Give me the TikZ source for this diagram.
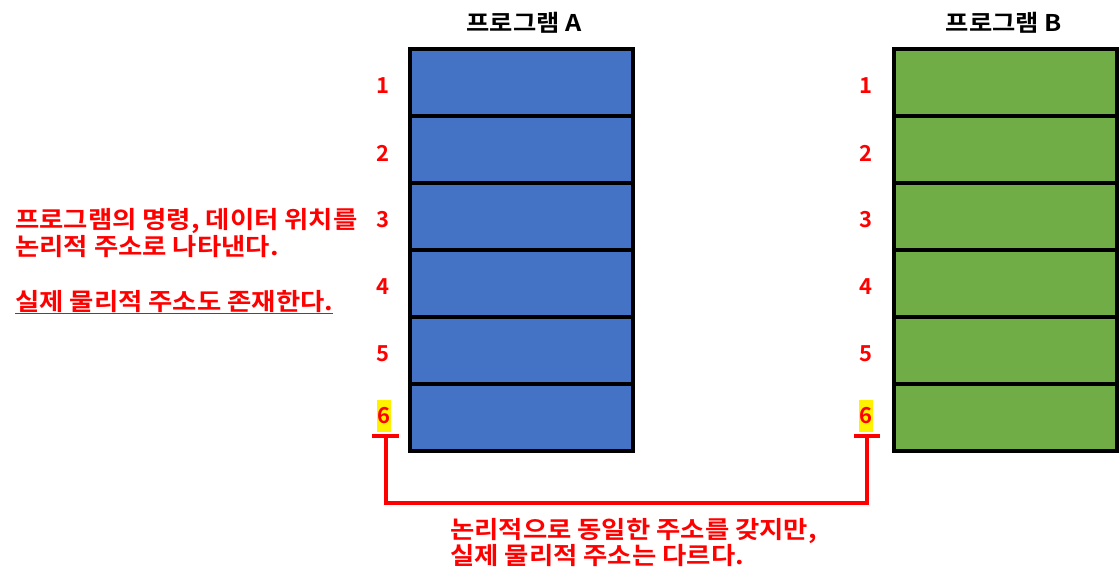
\documentclass[tikz,border=0pt]{standalone}
\usepackage{fontspec}
\setmainfont{Noto Sans CJK KR}[BoldFont={Noto Sans CJK KR Bold}]
\newfontfamily\widefont{Noto Sans CJK KR Bold}[FakeStretch=1.1]
\usepackage{tikz}
\usetikzlibrary{positioning}
\definecolor{progblue}{RGB}{68,114,196}
\definecolor{proggreen}{RGB}{112,173,71}
\tikzstyle{cella}=[rectangle,draw,line width=4pt,fill=progblue,minimum width=223pt,minimum height=67pt,inner sep=0pt]
\tikzstyle{cellb}=[cella,fill=proggreen]
\tikzstyle{num}=[text=red,inner sep=1pt,font=\fontsize{22}{22}\selectfont\bfseries]
\tikzstyle{title}=[font=\widefont\fontsize{23}{23}\selectfont]
\tikzstyle{note}=[text=red,anchor=base west,inner sep=0pt,font=\widefont\fontsize{24}{24}\selectfont]
\tikzstyle{bracket}=[red,line width=4pt]

\begin{document}
\begin{tikzpicture}[x=1pt,y=-1pt]
\useasboundingbox (0,0) rectangle (1120,584);

%program A
\foreach \i in {1,...,6} {
\node[cella] (a\i) at (521.5,82.5+67*\i-67) {};
}
%program B
\foreach \i in {1,...,6} {
\node[cellb] (b\i) at (1005.5,82.5+67*\i-67) {};
}

\node[title] (ta) at (524,23) {프로그램 A};
\node[title] (tb) at (1004,23) {프로그램 B};

%logical addresses
\foreach \i in {1,...,5} {
\node[num] (na\i) at (383,86+67*\i-67) {\i};
\node[num] (nb\i) at (866,86+67*\i-67) {\i};
}
\node[num,fill=yellow,minimum height=32pt] (na6) at (384,416) {6};
\node[num,fill=yellow,minimum height=32pt] (nb6) at (866,416) {6};

%same address, other place
\coordinate (pa) at (386,436);
\coordinate (pb) at (867,436);
\draw[bracket] ([xshift=-14pt]pa) -- ([xshift=13pt]pa);
\draw[bracket] ([xshift=-13pt]pb) -- ([xshift=13pt]pb);
\draw[bracket] (pa) -- ++(0,67) -| (pb);

%notes
\node[note] (l1) at (15,228) {프로그램의 명령, 데이터 위치를};
\node[note] (l2) at (15,255) {논리적 주소로 나타낸다.};
\node[note] (l3) at (15,310) {\underline{실제 물리적 주소도 존재한다.}};

\node[note] (m1) at (450,538) {논리적으로 동일한 주소를 갖지만,};
\node[note] (m2) at (450,564) {실제 물리적 주소는 다르다.};

\end{tikzpicture}
\end{document}
